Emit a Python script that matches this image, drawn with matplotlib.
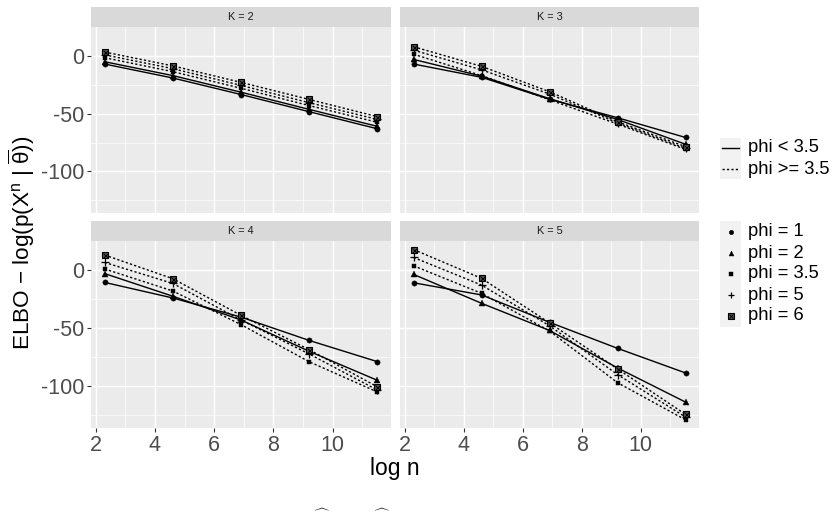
import matplotlib
matplotlib.use("Agg")
import matplotlib.pyplot as plt

plt.rcParams['font.family'] = ['Liberation Sans', 'DejaVu Sans']
plt.rcParams['mathtext.fontset'] = 'custom'
plt.rcParams['mathtext.rm'] = 'Liberation Sans'
plt.rcParams['mathtext.it'] = 'Liberation Sans'
plt.rcParams['mathtext.bf'] = 'Liberation Sans:bold'

# ---------------- data ----------------
log_n = [2.303, 4.605, 6.908, 9.210, 11.513]
panels = ["K = 2", "K = 3", "K = 4", "K = 5"]
phi_labels = ["phi = 1", "phi = 2", "phi = 3.5", "phi = 5", "phi = 6"]
line_labels = ["phi < 3.5", "phi >= 3.5"]

k2_phi1 = [-7.0, -19.1, -33.4, -48.3, -63.1]
k2_phi2 = [-5.0, -17.0, -31.4, -46.3, -61.0]
k2_phi35 = [-1.5, -13.6, -28.0, -43.0, -57.5]
k2_phi5 = [1.0, -11.0, -25.5, -40.5, -55.0]
k2_phi6 = [3.4, -8.6, -22.9, -37.7, -52.6]

k3_phi1 = [-7.0, -18.5, -37.5, -53.5, -70.6]
k3_phi2 = [-3.0, -17.5, -37.0, -55.0, -76.5]
k3_phi35 = [1.5, -17.0, -38.0, -59.0, -81.0]
k3_phi5 = [5.0, -12.0, -33.0, -58.0, -80.0]
k3_phi6 = [8.0, -9.0, -31.0, -57.0, -78.5]

k4_phi1 = [-10.6, -24.0, -40.5, -60.6, -78.9]
k4_phi2 = [-3.0, -22.5, -43.0, -70.0, -95.0]
k4_phi35 = [1.0, -18.0, -47.0, -79.0, -105.0]
k4_phi5 = [6.6, -11.5, -43.0, -72.3, -103.4]
k4_phi6 = [13.0, -7.4, -39.0, -68.6, -100.6]

k5_phi1 = [-10.9, -21.4, -45.0, -67.4, -88.6]
k5_phi2 = [-3.7, -28.6, -52.0, -84.3, -113.7]
k5_phi35 = [3.7, -20.0, -52.5, -97.0, -129.0]
k5_phi5 = [10.9, -12.9, -48.0, -90.0, -126.6]
k5_phi6 = [17.7, -7.1, -45.5, -85.1, -124.3]

series = [
    [k2_phi1, k2_phi2, k2_phi35, k2_phi5, k2_phi6],
    [k3_phi1, k3_phi2, k3_phi35, k3_phi5, k3_phi6],
    [k4_phi1, k4_phi2, k4_phi35, k4_phi5, k4_phi6],
    [k5_phi1, k5_phi2, k5_phi35, k5_phi5, k5_phi6],
]

# ---------------- style ----------------
W, H = 836, 515
fig = plt.figure(figsize=(W / 100, H / 100), dpi=100)
fig.patch.set_facecolor('white')

BG = '#EBEBEB'
STRIP = '#D9D9D9'
TICKC = '#333333'
LABC = '#4D4D4D'
DOT = (0, (1.6, 1.6))
line_styles = ['-', '-', DOT, DOT, DOT]

def px_rect(x0, y0, x1, y1):
    return [x0 / W, 1 - y1 / H, (x1 - x0) / W, (y1 - y0) / H]

panel_px = [
    (91, 27, 391, 213.3),
    (400, 27, 699, 213.3),
    (91, 241, 391, 428.3),
    (400, 241, 699, 428.3),
]
strip_h = 20.5

def draw_marker(ax, x, y, idx, ms=4.0):
    if idx == 0:
        ax.plot(x, y, 'o', ms=ms * 0.95, color='black', mec='black', mew=0.3, ls='none', zorder=4)
    elif idx == 1:
        ax.plot(x, y, '^', ms=ms * 1.05, color='black', mec='black', mew=0.3, ls='none', zorder=4)
    elif idx == 2:
        ax.plot(x, y, 's', ms=ms * 0.85, color='black', mec='black', mew=0.3, ls='none', zorder=4)
    elif idx == 3:
        ax.plot(x, y, '+', ms=ms * 1.35, color='black', mew=0.9, ls='none', zorder=4)
    else:
        ax.plot(x, y, 's', ms=ms * 1.1, mfc='#555555', mec='black', mew=0.8, ls='none', zorder=4)
        ax.plot(x, y, 'x', ms=ms * 0.9, color='black', mew=0.7, ls='none', zorder=5)

for p, (x0, y0, x1, y1) in enumerate(panel_px):
    ax = fig.add_axes(px_rect(x0, y0, x1, y1))
    ax.set_facecolor(BG)
    ax.set_xlim(1.84, 11.97)
    ax.set_ylim(-136.3, 25.1)
    ax.set_xticks([2, 4, 6, 8, 10])
    ax.set_xticks([3, 5, 7, 9, 11], minor=True)
    ax.set_yticks([0, -50, -100])
    ax.set_yticks([-25, -75, -125], minor=True)
    ax.grid(which='major', color='white', lw=1.05)
    ax.grid(which='minor', color='white', lw=0.5)
    ax.set_axisbelow(True)
    for s in ax.spines.values():
        s.set_visible(False)
    ax.tick_params(which='minor', length=0)
    ax.tick_params(which='major', length=3.2, width=0.8, color=TICKC,
                   labelcolor=LABC, labelsize=15.5, pad=1.5)
    if p % 2 == 1:
        ax.tick_params(axis='y', which='major', left=False, labelleft=False)
    else:
        ax.set_yticklabels(['0', '-50', '-100'])
    if p < 2:
        ax.tick_params(axis='x', which='major', bottom=False, labelbottom=False)

    for i, ys in enumerate(series[p]):
        ax.plot(log_n, ys, color='black', lw=1.0, ls=line_styles[i], zorder=3)
    for i, ys in enumerate(series[p]):
        draw_marker(ax, log_n, ys, i)

    sax = fig.add_axes(px_rect(x0, y0 - strip_h, x1, y0))
    sax.set_facecolor(STRIP)
    sax.set_xticks([]); sax.set_yticks([])
    for s in sax.spines.values():
        s.set_visible(False)
    sax.text(0.5, 0.5, panels[p], ha='center', va='center', fontsize=7.8,
             color='#1A1A1A', transform=sax.transAxes)

# axis titles
fig.text(395 / W, 1 - 468 / H, 'log n', ha='center', va='center', fontsize=16.5, color='black')
fig.text(22 / W, 1 - 243 / H,
         r'ELBO $-$ log(p(X$^{\mathrm{n}}$ | $\overline{\theta}$))',
         rotation=90, ha='center', va='center', fontsize=16.2, color='black')

# legends (drawn manually)
def key_axes(x0, y0, x1, y1):
    kax = fig.add_axes(px_rect(x0, y0, x1, y1))
    kax.set_facecolor('#F2F2F2')
    kax.set_xlim(0, 1); kax.set_ylim(0, 1)
    kax.set_xticks([]); kax.set_yticks([])
    for s in kax.spines.values():
        s.set_visible(False)
    return kax

lt_y = [148, 169]
kax = key_axes(720, 138, 741, 179)
for j, lab in enumerate(line_labels):
    yy = 1 - (lt_y[j] - 138) / (179 - 138)
    kax.plot([0.08, 0.92], [yy, yy], color='black', lw=1.0,
             ls='-' if j == 0 else DOT)
    fig.text(748 / W, 1 - lt_y[j] / H, lab, ha='left', va='center', fontsize=13.2, color='black')

sh_y = [232, 253, 274, 295, 316]
kax2 = key_axes(720, 221.5, 741, 326.5)
for j, lab in enumerate(phi_labels):
    yy = 1 - (sh_y[j] - 221.5) / (326.5 - 221.5)
    draw_marker(kax2, [0.5], [yy], j, ms=3.4)
    fig.text(748 / W, 1 - sh_y[j] / H, lab, ha='left', va='center', fontsize=13.2, color='black')

# caption remnants (wide hat accents) at the very bottom
for hx in (322, 382):
    fig.text(hx / W, 1 - 514 / H, r'$\widehat{\ \ \ }$', ha='center', va='bottom',
             fontsize=12, color='#222222')

fig.savefig('out.png', dpi=100, facecolor='white')
